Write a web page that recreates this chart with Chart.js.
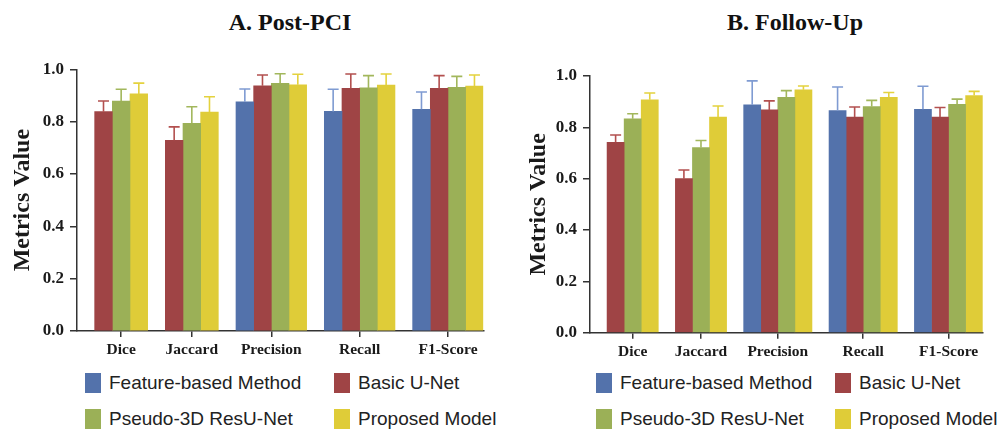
<!DOCTYPE html>
<html>
<head>
<meta charset="utf-8">
<script src="https://cdn.jsdelivr.net/npm/chart.js@4.4.0/dist/chart.umd.min.js"></script>
<style>
  body { margin: 0; background: #fff; width: 997px; height: 431px; overflow: hidden; position: relative; }
  .panel { position: absolute; top: 0; height: 431px; overflow: hidden; }
  .title { position: absolute; top: 10px; font: bold 24px 'Liberation Serif', 'Times New Roman', serif; line-height: 24px;
           white-space: nowrap; transform: translateX(-50%); color: #111; }
  canvas { position: absolute; top: 0; left: 0; }
  .item { position: absolute; display: flex; align-items: center; font: 19px 'Liberation Sans', Arial, sans-serif;
          color: #222; white-space: nowrap; }
  .box { width: 16px; height: 20px; margin-right: 8px; }
</style>
</head>
<body>
<div class="panel" id="left" style="left:0;width:500px">
  <div class="title" style="left:290px">A. Post-PCI</div>
  <canvas id="chartA" width="500" height="365"></canvas>
</div>
<div class="panel" id="right" style="left:500px;width:497px">
  <div class="title" style="left:295px">B. Follow-Up</div>
  <canvas id="chartB" width="497" height="365"></canvas>
</div>
<script>
// datos
const categories = ['Dice', 'Jaccard', 'Precision', 'Recall', 'F1-Score'];
const seriesNames = ['Feature-based Method', 'Basic U-Net', 'Pseudo-3D ResU-Net', 'Proposed Model'];
const yTicks = [0, 0.2, 0.4, 0.6, 0.8, 1.0];

// A. Post-PCI
const postFeature = [null, null, 0.876, 0.839, 0.847];
const postUnet    = [0.838, 0.729, 0.937, 0.927, 0.927];
const postP3d     = [0.879, 0.794, 0.946, 0.929, 0.931];
const postModel   = [0.906, 0.837, 0.941, 0.940, 0.936];
const postFeatureErr = [null, null, 0.049, 0.085, 0.066];
const postUnetErr    = [0.041, 0.051, 0.041, 0.055, 0.049];
const postP3dErr     = [0.045, 0.063, 0.037, 0.047, 0.042];
const postModelErr   = [0.041, 0.058, 0.040, 0.042, 0.042];

// B. Follow-Up
const followFeature = [null, null, 0.888, 0.865, 0.870];
const followUnet    = [0.742, 0.600, 0.868, 0.840, 0.840];
const followP3d     = [0.833, 0.721, 0.917, 0.881, 0.890];
const followModel   = [0.907, 0.840, 0.946, 0.917, 0.924];
const followFeatureErr = [null, null, 0.093, 0.092, 0.090];
const followUnetErr    = [0.028, 0.034, 0.035, 0.039, 0.037];
const followP3dErr     = [0.020, 0.028, 0.026, 0.024, 0.020];
const followModelErr   = [0.027, 0.043, 0.015, 0.019, 0.016];

const barColors = ['#5372AB', '#9F4445', '#9BB057', '#DFCC38'];
const errColors = ['#7F9BD2', '#B3504F', '#A2B75C', '#E4D23E'];
const AXIS = '#333';
const TXT = '#1a1a1a';
const SERIF = "'Liberation Serif', 'Times New Roman', serif";

// posiciones de grupo: las barras vacias no ocupan sitio
function groupCenters(series) {
  let start = 1;
  const centers = categories.map((c, i) => {
    const n = series.filter(s => s[i] != null).length;
    const center = start + n / 2;
    start += n + 1;
    return center;
  });
  return { centers, end: start - 1 };
}

// barras de error (solo hacia arriba)
const errorBars = {
  id: 'errorBars',
  afterDatasetsDraw(chart) {
    const ctx = chart.ctx, y = chart.scales.y;
    chart.data.datasets.forEach((ds, d) => {
      const meta = chart.getDatasetMeta(d);
      meta.data.forEach((bar, i) => {
        const v = ds.data[i].y, e = ds.errors[i];
        if (v == null || e == null) return;
        const top = y.getPixelForValue(v + e);
        ctx.save();
        ctx.strokeStyle = ds.errorColor;
        ctx.lineWidth = 1.6;
        ctx.beginPath();
        ctx.moveTo(bar.x, bar.y);
        ctx.lineTo(bar.x, top);
        ctx.moveTo(bar.x - 5.5, top);
        ctx.lineTo(bar.x + 5.5, top);
        ctx.stroke();
        ctx.restore();
      });
    });
  }
};

function makeChart(id, series, errs, L) {
  const { centers, end } = groupCenters(series);
  new Chart(document.getElementById(id), {
    type: 'bar',
    data: {
      datasets: series.map((vals, s) => ({
        label: seriesNames[s],
        data: vals.map((v, i) => ({ x: centers[i], y: v })),
        backgroundColor: barColors[s],
        borderWidth: 0,
        barThickness: L.bar,
        skipNull: true,
        errors: errs[s],
        errorColor: errColors[s]
      }))
    },
    options: {
      responsive: false,
      animation: false,
      events: [],
      layout: { padding: { top: L.top, right: L.right, left: L.left, bottom: 0 } },
      plugins: { legend: { display: false }, tooltip: { enabled: false }, title: { display: false } },
      scales: {
        x: {
          type: 'linear', min: 0, max: end, offset: false,
          grid: { offset: false, drawOnChartArea: false, drawTicks: true, tickLength: 6, color: AXIS, lineWidth: 1.5 },
          border: { color: AXIS, width: 1.5 },
          afterBuildTicks: sc => { sc.ticks = centers.map(v => ({ value: v })); },
          afterFit: sc => { sc.height = L.xH; },
          ticks: {
            autoSkip: false, maxRotation: 0, padding: 4, color: TXT,
            font: { family: SERIF, size: 15.5, weight: 'bold' },
            callback: (v, i) => categories[i]
          }
        },
        y: {
          min: 0, max: 1,
          afterBuildTicks: sc => { sc.ticks = yTicks.map(v => ({ value: v })); },
          afterFit: sc => { sc.width = L.yW; },
          grid: { drawOnChartArea: false, drawTicks: true, tickLength: 7, color: AXIS, lineWidth: 1.5 },
          border: { color: AXIS, width: 1.5 },
          ticks: {
            padding: 6, color: TXT,
            font: { family: SERIF, size: 17, weight: 'bold' },
            callback: v => v.toFixed(1)
          },
          title: {
            display: true, text: 'Metrics Value', color: TXT, padding: L.titlePad,
            font: { family: SERIF, size: 24, weight: 'bold' }
          }
        }
      }
    },
    plugins: [errorBars]
  });
}

function makeLegend(panelId, cols, rows) {
  const panel = document.getElementById(panelId);
  seriesNames.forEach((name, s) => {
    const item = document.createElement('div');
    item.className = 'item';
    item.style.left = cols[s % 2] + 'px';
    item.style.top = rows[Math.floor(s / 2)] + 'px';
    item.innerHTML = '<span class="box" style="background:' + barColors[s] + '"></span>' + name;
    panel.appendChild(item);
  });
}

makeChart('chartA', [postFeature, postUnet, postP3d, postModel],
  [postFeatureErr, postUnetErr, postP3dErr, postModelErr],
  { top: 69.3, right: 16.7, left: 0, yW: 77, xH: 34, bar: 17.66, titlePad: 8 });

makeChart('chartB', [followFeature, followUnet, followP3d, followModel],
  [followFeatureErr, followUnetErr, followP3dErr, followModelErr],
  { top: 76, right: 14.3, left: 0, yW: 90, xH: 32.3, bar: 17.07, titlePad: 24.8 });

makeLegend('left', [85, 334], [372, 408]);
makeLegend('right', [96, 335], [372, 408]);
</script>
</body>
</html>
